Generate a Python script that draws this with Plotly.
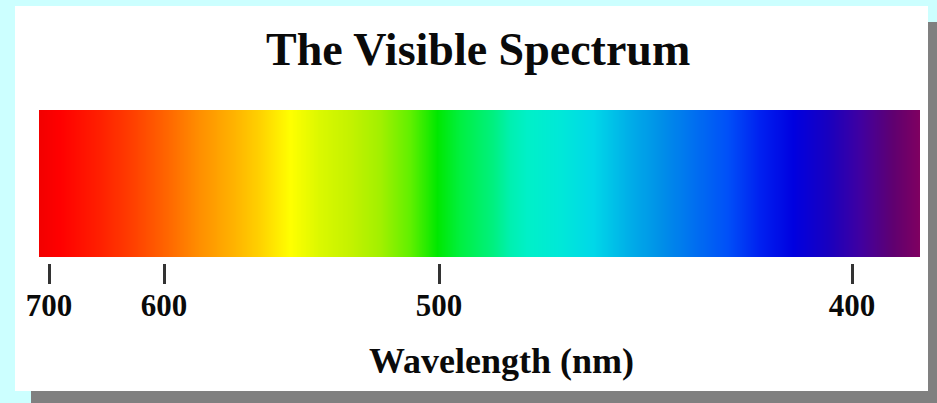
import plotly.graph_objects as go

# Colour stops along the spectrum bar (position along bar, colour)
stop_pos = [0, 21, 61, 94, 128, 161, 194, 221, 251, 281, 311, 341, 371, 398,
            421, 454, 471, 488, 521, 554, 588, 621, 654, 688, 721, 754, 788,
            821, 854, 881]
stop_colors = ["#f20000", "#ff0000", "#ff2000", "#ff4000", "#ff6600", "#ff9000",
               "#ffb200", "#ffd200", "#ffff00", "#daf800", "#c4f200", "#a2f000",
               "#60f000", "#00e800", "#00f040", "#00f080", "#00f0b0", "#00f0c8",
               "#00e8d8", "#00d8e8", "#00b0e8", "#0090e8", "#0070f0", "#0050f8",
               "#0020f0", "#0000e0", "#1800c0", "#4000a0", "#600070", "#800060"]

# Wavelength ticks (position along bar, label)
tick_pos = [10, 125, 400, 813]
tick_labels = ["700", "600", "500", "400"]

W, H = 937, 403
def px(x):
    return x / W
def py(y):
    return 1 - y / H

n = len(stop_pos)
idx = list(range(n))
colorscale = [[i / (n - 1), c] for i, c in enumerate(stop_colors)]

fig = go.Figure()
fig.add_trace(go.Heatmap(
    x=stop_pos, y=[0, 1], z=[idx, idx],
    colorscale=colorscale, zmin=0, zmax=n - 1,
    zsmooth="best", showscale=False, hoverinfo="skip",
))

serif = "Liberation Serif, Times New Roman, serif"

fig.update_layout(
    width=W, height=H,
    margin=dict(l=0, r=0, t=0, b=0, pad=0, autoexpand=False),
    paper_bgcolor="#ccffff",
    plot_bgcolor="rgba(0,0,0,0)",
    showlegend=False,
    xaxis=dict(
        domain=[px(39), px(920)], range=[0, 881],
        anchor="free", position=py(263), automargin=False,
        showgrid=False, zeroline=False, showline=False,
        tickmode="array", tickvals=tick_pos, ticktext=tick_labels,
        ticks="outside", ticklen=20, tickwidth=3, tickcolor="#333333",
        ticklabelstandoff=-5,
        tickfont=dict(family=serif, size=31, color="#0a0a0a", weight="bold"),
        fixedrange=True,
    ),
    yaxis=dict(
        domain=[py(257), py(110)], range=[0, 1],
        visible=False, fixedrange=True, automargin=False,
    ),
    shapes=[
        dict(type="rect", xref="paper", yref="paper", layer="below",
             x0=px(31), x1=1, y0=0, y1=py(22),
             fillcolor="#808080", line=dict(width=0)),
        dict(type="rect", xref="paper", yref="paper", layer="below",
             x0=px(15), x1=px(928), y0=py(391), y1=py(6),
             fillcolor="#ffffff", line=dict(width=0)),
    ],
    annotations=[
        dict(text="The Visible Spectrum", xref="paper", yref="paper",
             x=px(478), y=py(49), xanchor="center", yanchor="middle",
             showarrow=False,
             font=dict(family=serif, size=46, color="#0a0a0a", weight="bold")),
        dict(text="Wavelength (nm)", xref="paper", yref="paper",
             x=px(501), y=py(361), xanchor="center", yanchor="middle",
             showarrow=False,
             font=dict(family=serif, size=36, color="#0a0a0a", weight="bold")),
    ],
)

fig.write_html(
    "out.html",
    config={"displayModeBar": False},
    post_script="document.body.style.margin='0';document.body.style.overflow='hidden';",
)
